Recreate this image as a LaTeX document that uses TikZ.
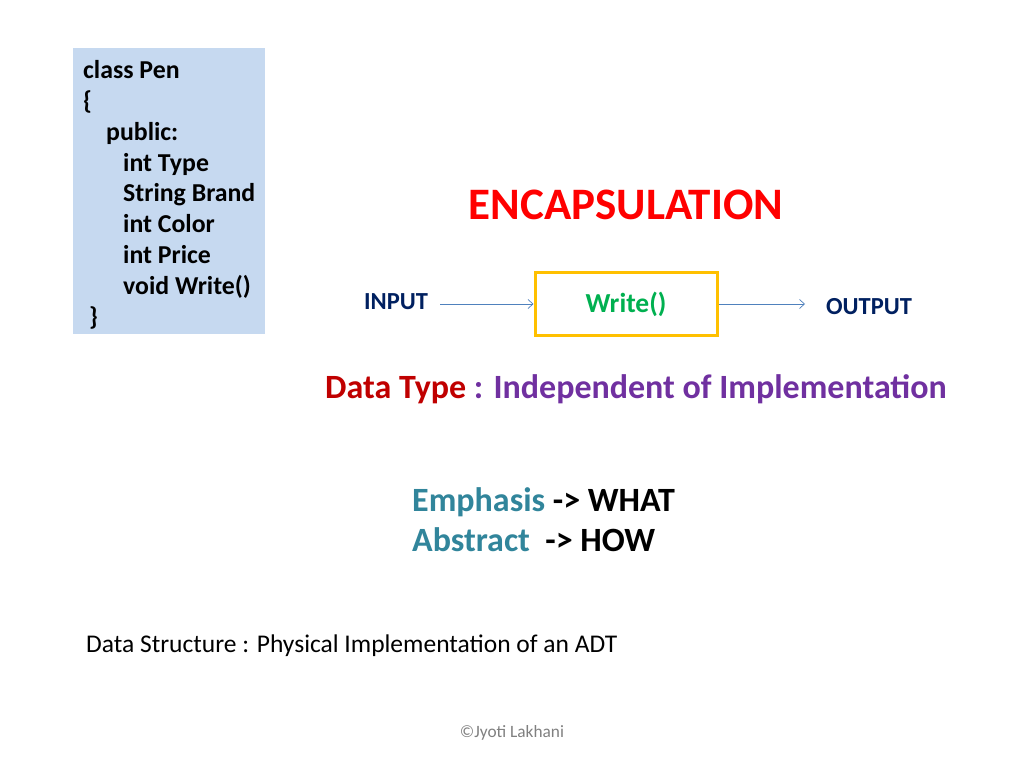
\documentclass[tikz,border=0pt]{standalone}
\usepackage{fontspec}
\setmainfont{Carlito}
\usetikzlibrary{arrows.meta}
\definecolor{boxblue}{RGB}{198,217,240}
\definecolor{navy}{RGB}{0,32,96}
\definecolor{encred}{RGB}{255,0,0}
\definecolor{dred}{RGB}{192,0,0}
\definecolor{purp}{RGB}{112,48,160}
\definecolor{teal}{RGB}{49,133,155}
\definecolor{gold}{RGB}{255,192,0}
\definecolor{grn}{RGB}{0,176,80}
\definecolor{arr}{RGB}{79,129,189}
\begin{document}
\begin{tikzpicture}[x=1pt,y=-1pt,
  lab/.style={inner sep=0pt,font=\bfseries\fontsize{24.5}{28}\selectfont},
  conn/.style={draw=arr,-{Straight Barb[length=5pt,width=9pt]},line width=0.7pt}]
\useasboundingbox (0,0) rectangle (1024,768);
\fill[white] (0,0) rectangle (1024,768);
\node[fill=boxblue,minimum width=192pt,minimum height=286pt,inner sep=0pt] (cls) at (169,191) {};
\node[anchor=north west,align=left,inner sep=0pt,font=\bfseries\fontsize{25.8}{30.9}\selectfont] (code) at (83,60)
{class Pen\\\{\\\hspace*{23pt}public:\\\hspace*{40pt}int Type\\\hspace*{40pt}String Brand\\\hspace*{40pt}int Color\\\hspace*{40pt}int Price\\\hspace*{40pt}void Write()\\\hspace*{6pt}\}};
\node[inner sep=0pt,text=encred,font=\bfseries\fontsize{45}{50}\selectfont] (enc) at (626,205) {ENCAPSULATION};
\node[draw=gold,line width=3pt,minimum width=182pt,minimum height=63pt,inner sep=0pt,text=grn,font=\bfseries\fontsize{27.5}{30}\selectfont] (w) at (626,304) {Write()};
\node[lab,text=navy] (in) at (396,302) {INPUT};
\node[lab,text=navy] (out) at (869,307) {OUTPUT};
\coordinate (a) at (440,304);
\coordinate (b) at (805,304);
\draw[conn] (a) -- (w.west);
\draw[conn] (w.east) -- (b);
\node[inner sep=0pt,font=\bfseries\fontsize{34}{38}\selectfont] (dt) at (636,389) {\textcolor{dred}{Data Type} \textcolor{purp}{: Independent of Implementation}};
\node[anchor=west,inner sep=0pt,font=\bfseries\fontsize{34}{40}\selectfont,align=left] (em) at (412,520) {\textcolor{teal}{Emphasis} -> WHAT\\\textcolor{teal}{Abstract}\ \ -> HOW};
\node[anchor=west,inner sep=0pt,font=\fontsize{25.5}{28}\selectfont] (ds) at (86,646) {Data Structure : Physical Implementation of an ADT};
\node[inner sep=0pt,text=gray,font=\fontsize{17.3}{20}\selectfont] (cp) at (512,733) {©Jyoti Lakhani};
\end{tikzpicture}
\end{document}
